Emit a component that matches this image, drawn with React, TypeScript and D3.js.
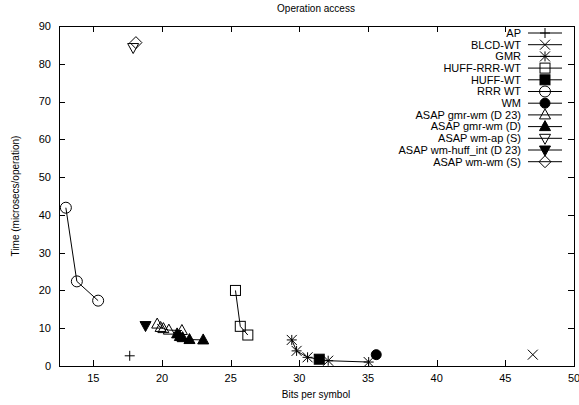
import React, { useEffect, useRef } from 'react';
import * as d3 from 'd3';

const seriesNames = [
  'AP', 'BLCD-WT', 'GMR', 'HUFF-RRR-WT', 'HUFF-WT', 'RRR WT', 'WM',
  'ASAP gmr-wm (D 23)', 'ASAP gmr-wm (D)', 'ASAP wm-ap (S)', 'ASAP wm-huff_int (D 23)', 'ASAP wm-wm (S)',
];

const apX = [17.65];
const apY = [2.7];
const blcdX = [47.0];
const blcdY = [3.0];
const gmrX = [29.45, 29.8, 30.6, 32.1, 35.05];
const gmrY = [6.9, 4.0, 2.3, 1.4, 1.05];
const huffRrrX = [25.35, 25.7, 26.25];
const huffRrrY = [20.0, 10.5, 8.2];
const huffWtX = [31.45];
const huffWtY = [1.8];
const rrrX = [13.0, 13.8, 15.35];
const rrrY = [41.9, 22.4, 17.3];
const wmX = [35.6];
const wmY = [3.0];
const gmrWmD23X = [19.65, 19.9, 20.1, 20.5, 21.45];
const gmrWmD23Y = [11.1, 10.2, 9.9, 9.5, 9.4];
const gmrWmDX = [21.1, 21.3, 21.5, 22.0, 23.0];
const gmrWmDY = [8.5, 7.8, 7.5, 7.0, 6.9];
const wmApX = [17.9];
const wmApY = [84.3];
const wmHuffX = [18.8];
const wmHuffY = [10.7];
const wmWmX = [18.1];
const wmWmY = [85.6];

const xTicks = [15, 20, 25, 30, 35, 40, 45, 50];
const yTicks = [0, 10, 20, 30, 40, 50, 60, 70, 80, 90];

const seriesX = [apX, blcdX, gmrX, huffRrrX, huffWtX, rrrX, wmX, gmrWmD23X, gmrWmDX, wmApX, wmHuffX, wmWmX];
const seriesY = [apY, blcdY, gmrY, huffRrrY, huffWtY, rrrY, wmY, gmrWmD23Y, gmrWmDY, wmApY, wmHuffY, wmWmY];
const markers = ['plus', 'cross', 'star', 'square', 'squareF', 'circle', 'circleF', 'tri', 'triF', 'tdown', 'tdownF', 'diamond'];

// draw one gnuplot-like point marker
function drawMarker(g: any, kind: string, cx: number, cy: number) {
  const s = 5;
  const stroke = '#000';
  if (kind === 'plus' || kind === 'star') {
    g.append('path').attr('d', `M${cx - s},${cy}H${cx + s}M${cx},${cy - s}V${cy + s}`)
      .attr('stroke', stroke).attr('fill', 'none');
  }
  if (kind === 'cross' || kind === 'star') {
    g.append('path').attr('d', `M${cx - s},${cy - s}L${cx + s},${cy + s}M${cx - s},${cy + s}L${cx + s},${cy - s}`)
      .attr('stroke', stroke).attr('fill', 'none');
  }
  if (kind === 'square' || kind === 'squareF') {
    g.append('rect').attr('x', cx - s).attr('y', cy - s).attr('width', 2 * s).attr('height', 2 * s)
      .attr('stroke', stroke).attr('fill', kind === 'squareF' ? '#000' : 'none');
  }
  if (kind === 'circle' || kind === 'circleF') {
    g.append('circle').attr('cx', cx).attr('cy', cy).attr('r', kind === 'circle' ? 5.5 : 5)
      .attr('stroke', stroke).attr('fill', kind === 'circleF' ? '#000' : 'none');
  }
  if (kind === 'tri' || kind === 'triF') {
    g.append('path').attr('d', `M${cx},${cy - s - 1}L${cx + s + 0.5},${cy + s - 1}L${cx - s - 0.5},${cy + s - 1}Z`)
      .attr('stroke', stroke).attr('fill', kind === 'triF' ? '#000' : 'none');
  }
  if (kind === 'tdown' || kind === 'tdownF') {
    g.append('path').attr('d', `M${cx},${cy + s + 1}L${cx + s + 0.5},${cy - s + 1}L${cx - s - 0.5},${cy - s + 1}Z`)
      .attr('stroke', stroke).attr('fill', kind === 'tdownF' ? '#000' : 'none');
  }
  if (kind === 'diamond') {
    g.append('path').attr('d', `M${cx},${cy - s - 1}L${cx + s + 1},${cy}L${cx},${cy + s + 1}L${cx - s - 1},${cy}Z`)
      .attr('stroke', stroke).attr('fill', 'none');
  }
}

function Chart() {
  const svgRef = useRef<SVGSVGElement>(null);

  useEffect(() => {
    const svg = d3.select(svgRef.current);
    svg.selectAll('*').remove();

    const left = 59, right = 574, top = 26, bottom = 366;
    const font = 'Liberation Sans, Arial, sans-serif';

    const x = d3.scaleLinear().domain([12.5, 50]).range([left, right]);
    const y = d3.scaleLinear().domain([0, 90]).range([bottom, top]);

    const axes = svg.append('g').attr('stroke', '#000').attr('stroke-width', 1);

    // inward ticks on all four sides (mirrored)
    xTicks.forEach(t => {
      const px = Math.round(x(t)) + 0.5;
      axes.append('line').attr('x1', px).attr('x2', px).attr('y1', bottom).attr('y2', bottom - 6);
      axes.append('line').attr('x1', px).attr('x2', px).attr('y1', top).attr('y2', top + 6);
    });
    yTicks.forEach(t => {
      const py = Math.round(y(t)) + 0.5;
      axes.append('line').attr('x1', left).attr('x2', left + 6).attr('y1', py).attr('y2', py);
      axes.append('line').attr('x1', right).attr('x2', right - 6).attr('y1', py).attr('y2', py);
    });

    svg.append('rect')
      .attr('x', left + 0.5).attr('y', top + 0.5)
      .attr('width', right - left).attr('height', bottom - top)
      .attr('fill', 'none').attr('stroke', '#000');

    const labels = svg.append('g').attr('font-family', font).attr('font-size', 11).attr('fill', '#000');
    xTicks.forEach(t => {
      labels.append('text').attr('x', x(t)).attr('y', bottom + 16).attr('text-anchor', 'middle').text(t);
    });
    yTicks.forEach(t => {
      labels.append('text').attr('x', left - 8).attr('y', y(t)).attr('dy', '0.35em').attr('text-anchor', 'end').text(t);
    });

    labels.append('text').attr('x', 316).attr('y', 12).attr('text-anchor', 'middle').attr('font-size', 10).text('Operation access');
    labels.append('text').attr('x', 316).attr('y', 398).attr('text-anchor', 'middle').attr('font-size', 10).text('Bits per symbol');
    labels.append('text')
      .attr('transform', `translate(19,${(top + bottom) / 2}) rotate(-90)`)
      .attr('text-anchor', 'middle').attr('font-size', 10)
      .text('Time (microsecs/operation)');

    // series lines + markers
    const line = d3.line<[number, number]>().x(d => x(d[0])).y(d => y(d[1]));
    const plot = svg.append('g');
    seriesX.forEach((xs, i) => {
      const pts: [number, number][] = xs.map((v, j) => [v, seriesY[i][j]]);
      if (pts.length > 1) {
        plot.append('path').attr('d', line(pts)).attr('fill', 'none').attr('stroke', '#000').attr('stroke-width', 1);
      }
      pts.forEach(p => drawMarker(plot, markers[i], x(p[0]), y(p[1])));
    });

    // legend
    const legend = svg.append('g');
    seriesNames.forEach((name, i) => {
      const ly = 33 + i * 11.7;
      legend.append('text').attr('x', 521).attr('y', ly).attr('dy', '0.35em')
        .attr('text-anchor', 'end').attr('font-family', font).attr('font-size', 11).text(name);
      legend.append('line').attr('x1', 528).attr('x2', 562).attr('y1', ly).attr('y2', ly).attr('stroke', '#000');
      drawMarker(legend, markers[i], 545, ly);
    });
  }, []);

  return <svg ref={svgRef} width={579} height={405} style={{ position: 'absolute', left: 0, top: 0, background: '#fff' }}></svg>;
}

export default function App() {
  return <Chart />;
}
